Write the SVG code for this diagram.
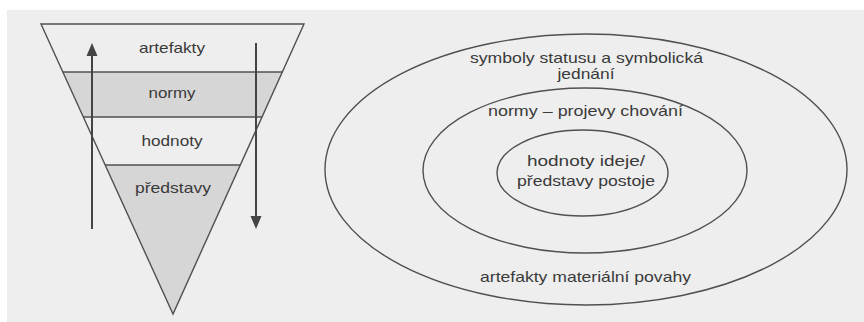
<svg xmlns="http://www.w3.org/2000/svg" width="864" height="322" viewBox="0 0 864 322">
<style>
.ln{fill:none;stroke:#505050;stroke-width:1.4}
.sh{fill:#d6d6d6;stroke:none}
.t{font-family:"Liberation Sans",Arial,sans-serif;font-size:15px;fill:#3a3a3a;text-anchor:middle}
.ar{stroke:#444;stroke-width:2;fill:none}
.ah{fill:#444;stroke:none}
</style>
<rect x="0" y="0" width="864" height="322" fill="#ffffff"/>
<rect x="7" y="10" width="857" height="312" fill="#eeeeee"/>
<g id="pyramid">
  <g id="layer-artefakty">
    <text class="t" x="172" y="53" textLength="66" lengthAdjust="spacingAndGlyphs">artefakty</text>
  </g>
  <g id="layer-normy">
    <polygon class="sh" points="62.8,72 282.3,72 262,117 83.3,117"/>
    <text class="t" x="172" y="98" textLength="47" lengthAdjust="spacingAndGlyphs">normy</text>
  </g>
  <g id="layer-hodnoty">
    <text class="t" x="172" y="146" textLength="61" lengthAdjust="spacingAndGlyphs">hodnoty</text>
  </g>
  <g id="layer-predstavy">
    <polygon class="sh" points="105.2,165 240.3,165 173,314"/>
    <text class="t" x="173" y="193" textLength="76" lengthAdjust="spacingAndGlyphs">představy</text>
  </g>
  <polygon class="ln" points="41,24 304,24 173,314"/>
  <line class="ln" x1="62.8" y1="72" x2="282.3" y2="72"/>
  <line class="ln" x1="83.3" y1="117" x2="262" y2="117"/>
  <line class="ln" x1="105.2" y1="165" x2="240.3" y2="165"/>
</g>
<g id="connectors">
  <line class="ar" x1="92" y1="229" x2="92" y2="54"/>
  <polygon class="ah" points="92,43 86.5,56 97.5,56"/>
  <line class="ar" x1="256" y1="43" x2="256" y2="218"/>
  <polygon class="ah" points="256,229 250.5,216 261.5,216"/>
</g>
<g id="outer">
  <ellipse class="ln" cx="586" cy="169.5" rx="261" ry="135.5"/>
  <text class="t" x="586.5" y="63" textLength="233" lengthAdjust="spacingAndGlyphs">symboly statusu a symbolická</text>
  <text class="t" x="586" y="79" textLength="57" lengthAdjust="spacingAndGlyphs">jednání</text>
  <text class="t" x="585.5" y="282" textLength="211" lengthAdjust="spacingAndGlyphs">artefakty materiální povahy</text>
</g>
<g id="middle">
  <ellipse class="ln" cx="585" cy="170.5" rx="162" ry="82.5"/>
  <text class="t" x="585.5" y="116" textLength="195" lengthAdjust="spacingAndGlyphs">normy – projevy chování</text>
</g>
<g id="inner">
  <ellipse class="ln" cx="582.5" cy="173" rx="85.5" ry="43"/>
  <text class="t" x="586" y="166" textLength="118" lengthAdjust="spacingAndGlyphs">hodnoty ideje/</text>
  <text class="t" x="586" y="186" textLength="138" lengthAdjust="spacingAndGlyphs">představy postoje</text>
</g>
</svg>
